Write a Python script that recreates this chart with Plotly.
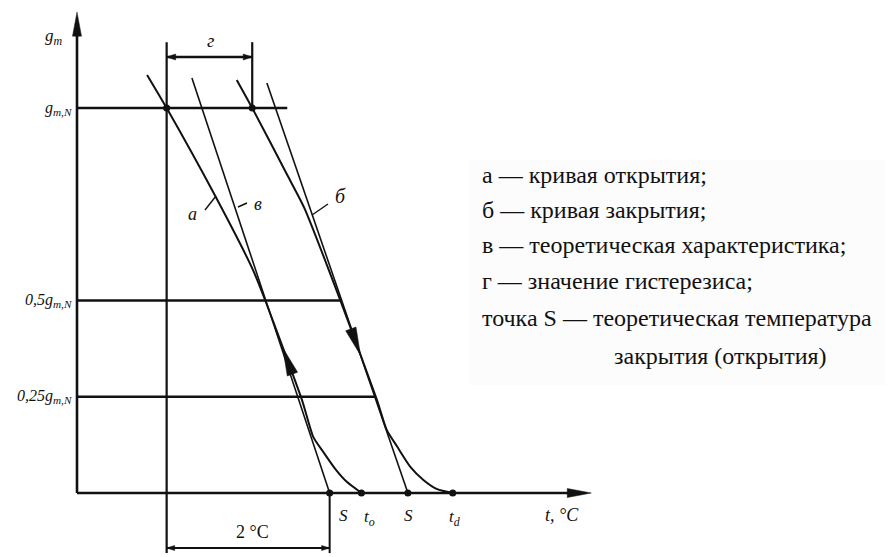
import numpy as np
import plotly.graph_objects as go

# ---------------- data (temperature in °C from the g-axis, g as fraction of g_m,N) ----------------
open_t = [0.86, 1.10, 1.69, 2.16, 2.31, 2.76, 2.90, 3.02, 3.17, 3.31, 3.49]
open_g = [1.086, 1.0, 0.774, 0.579, 0.50, 0.242, 0.145, 0.107, 0.062, 0.029, 0.0]

close_t = [1.96, 2.15, 2.58, 2.79, 3.23, 3.68, 3.80, 3.93, 4.09, 4.25, 4.42, 4.61]
close_g = [1.073, 1.0, 0.826, 0.740, 0.501, 0.242, 0.164, 0.120, 0.068, 0.034, 0.010, 0.0]

theory_open_t = [1.41, 3.10]
theory_open_g = [1.078, 0.0]
theory_close_t = [2.33, 4.06]
theory_close_g = [1.065, 0.0]

S_open, t_open, S_close, t_close = 3.10, 3.49, 4.06, 4.61
level_g = [1.0, 0.5, 0.25]
level_labels = ["g<sub>m,N</sub>", "0,5g<sub>m,N</sub>", "0,25g<sub>m,N</sub>"]
level_end_first = 2.58
axis_t_max, axis_g_max = 6.31, 1.249
dim_top_g, dim_bottom_g = 1.171, -0.156
arrow_open_g = (0.306, 0.377)    # base, tip (pointing up)
arrow_close_g = (0.429, 0.358)   # base, tip (pointing down)

legend_lines = [
    "а — кривая открытия;",
    "б — кривая закрытия;",
    "в — теоретическая характеристика;",
    "г — значение гистерезиса;",
    "точка S — теоретическая температура",
    "закрытия (открытия)",
]

# ---------------- layout scale ----------------
PAGE_OFF = 8              # default page margin of the browser
W, H = 894 - PAGE_OFF, 557 - PAGE_OFF
OX, OY = 77, 493          # pixel origin of the axes in the window
KX, KY = 81.5, 385        # pixels per °C, pixels per g_m,N
x_range = [-(OX - PAGE_OFF) / KX, (W - (OX - PAGE_OFF)) / KX]
y_range = [((OY - PAGE_OFF) - H) / KY, (OY - PAGE_OFF) / KY]


def to_data(px, py):
    return (px - OX) / KX, (OY - py) / KY


def on_curve(ts, gs, g):
    return float(np.interp(g, gs[::-1], ts[::-1]))


def tri(tip_t, tip_g, dx, dy, L, Wd):
    n = np.hypot(dx, dy)
    ux, uy = dx / n, dy / n
    px, py = tip_t * KX, tip_g * KY
    bx, by = px - ux * L, py - uy * L
    pts = [(px, py), (bx - uy * Wd, by + ux * Wd), (bx + uy * Wd, by - ux * Wd), (px, py)]
    return [p[0] / KX for p in pts], [p[1] / KY for p in pts]


fig = go.Figure()
BLACK = "#111111"


def line(ts, gs, w=2.0, shape="linear"):
    fig.add_trace(go.Scatter(x=ts, y=gs, mode="lines", line=dict(color=BLACK, width=w, shape=shape, smoothing=0.6),
                             hoverinfo="skip", showlegend=False))


def head(ts, gs):
    fig.add_trace(go.Scatter(x=ts, y=gs, mode="lines", fill="toself", fillcolor=BLACK,
                             line=dict(color=BLACK, width=0.5), hoverinfo="skip", showlegend=False))


# legend box background
fig.add_shape(type="rect", x0=to_data(470, 0)[0], x1=x_range[1], y0=to_data(0, 385)[1], y1=to_data(0, 160)[1],
              line=dict(width=0), fillcolor="#fcfcfc", layer="below")

# axes
line([0, 0], [0, axis_g_max - 0.03], 2.6)
line([0, axis_t_max - 0.15], [0, 0], 2.6)
head(*tri(0, axis_g_max, 0, 1, 24, 4.5))
head(*tri(axis_t_max, 0, 1, 0, 24, 4.5))

# level lines
ends = [level_end_first] + [on_curve(close_t, close_g, g) for g in level_g[1:]]
for g, e in zip(level_g, ends):
    line([0, e], [g, g], 2.6)

# dimension lines
t_aN = on_curve(open_t, open_g, 1.0)
t_bN = on_curve(close_t, close_g, 1.0)
line([t_aN, t_aN], [dim_top_g, dim_bottom_g], 2.2)
line([t_bN, t_bN], [dim_top_g, 1.0], 2.2)
line([S_open, S_open], [0, dim_bottom_g], 2.0)
g_hyst = to_data(0, 57)[1]
g_two = to_data(0, 548)[1]
line([t_aN, t_bN], [g_hyst, g_hyst], 2.6)
head(*tri(t_aN, g_hyst, -1, 0, 9, 3))
head(*tri(t_bN, g_hyst, 1, 0, 9, 3))
line([t_aN, S_open], [g_two, g_two], 2.0)
head(*tri(t_aN, g_two, -1, 0, 8, 2.5))
head(*tri(S_open, g_two, 1, 0, 8, 2.5))

# theoretical lines and curves
line(theory_open_t, theory_open_g, 1.6)
line(theory_close_t, theory_close_g, 1.6)
line(open_t, open_g, 2.0, "spline")
line(close_t, close_g, 2.0, "spline")

# direction arrows on curves
for ts, gs, (gb, gt) in [(open_t, open_g, arrow_open_g), (close_t, close_g, arrow_close_g)]:
    tb, tt = on_curve(ts, gs, gb), on_curve(ts, gs, gt)
    head(*tri(tt, gt, (tt - tb) * KX, (gt - gb) * KY, 28, 5.5))

# points
fig.add_trace(go.Scatter(x=[t_aN, t_bN, S_open, t_open, S_close, t_close], y=[1, 1, 0, 0, 0, 0],
                         mode="markers", marker=dict(color=BLACK, size=7), hoverinfo="skip", showlegend=False))

# label leaders
for (a, b) in [((205, 210), (216, 196)), ((238, 207), (247, 203)), ((312, 215), (328, 204))]:
    p, q = to_data(*a), to_data(*b)
    line([p[0], q[0]], [p[1], q[1]], 1.4)

ann = []
SERIF = "Liberation Serif"


def text(px, py, s, size=15, anchor="center", italic=True, family=SERIF):
    x, y = to_data(px, py)
    ann.append(dict(x=x, y=y, text=(f"<i>{s}</i>" if italic else s), showarrow=False, xanchor=anchor,
                    yanchor="middle", font=dict(family=family, size=size, color=BLACK)))


text(54, 37, "g<sub>m</sub>", 17)
for g, lab in zip(level_g, level_labels):
    text(74, OY - g * KY, lab, 16, "right")
text(210, 40, "г", 19)
text(192, 214, "а", 18)
text(258, 204, "в", 18)
text(340, 196, "б", 20)
text(343, 515, "S", 17)
text(369, 518, "t<sub>o</sub>", 17)
text(408, 515, "S", 17)
text(454, 518, "t<sub>d</sub>", 17)
text(562, 515, "t, °C", 18)
text(252, 532, "2 °C", 18, italic=False)

legend_y = [175, 210, 245, 281, 318, 356]
for i, (s, yy) in enumerate(zip(legend_lines, legend_y)):
    text(612 if i == 5 else 480, yy, s, 24, "left", italic=False)

fig.update_layout(
    width=W, height=H, margin=dict(l=0, r=0, t=0, b=0), autosize=False,
    paper_bgcolor="white", plot_bgcolor="white", annotations=ann, showlegend=False,
    xaxis=dict(range=x_range, visible=False, fixedrange=True),
    yaxis=dict(range=y_range, visible=False, fixedrange=True),
)
fig.write_html("out.html")
